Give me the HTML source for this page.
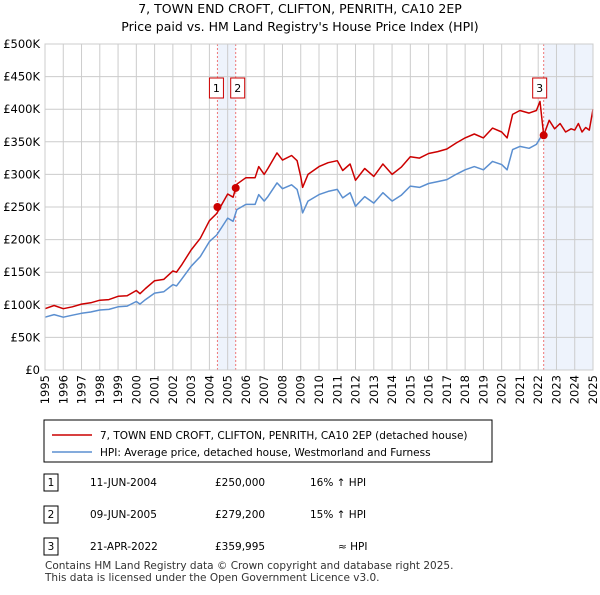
<!DOCTYPE html>
<html><head><meta charset="utf-8"><style>
body{margin:0;background:#fff;font-family:"Liberation Sans","DejaVu Sans",sans-serif;}
svg text{font-family:"DejaVu Sans","Liberation Sans",sans-serif;}
</style></head><body>
<svg id="c" width="600" height="590" xmlns="http://www.w3.org/2000/svg">
<text x="300" y="13" text-anchor="middle" font-size="12.5" fill="#000">7, TOWN END CROFT, CLIFTON, PENRITH, CA10 2EP</text>
<text x="300" y="31" text-anchor="middle" font-size="12.5" fill="#000">Price paid vs. HM Land Registry's House Price Index (HPI)</text>
<g id="plot"></g>
<rect x="44" y="420" width="448" height="42" fill="#fff" stroke="#000" stroke-width="1"/>
<line x1="52" y1="435" x2="92" y2="435" stroke="#cc0000" stroke-width="1.5"/>
<text x="100" y="439" font-size="10.5">7, TOWN END CROFT, CLIFTON, PENRITH, CA10 2EP (detached house)</text>
<line x1="52" y1="452" x2="92" y2="452" stroke="#5b8fd0" stroke-width="1.5"/>
<text x="100" y="456" font-size="10.5">HPI: Average price, detached house, Westmorland and Furness</text>
<g font-size="10.5">
<rect x="44" y="474" width="14" height="17" fill="#fff" stroke="#000"/><text x="51" y="486" text-anchor="middle">1</text>
<text x="90" y="486">11-JUN-2004</text><text x="215" y="486">£250,000</text><text x="310" y="486">16% ↑ HPI</text>
<rect x="44" y="506" width="14" height="17" fill="#fff" stroke="#000"/><text x="51" y="518" text-anchor="middle">2</text>
<text x="90" y="518">09-JUN-2005</text><text x="215" y="518">£279,200</text><text x="310" y="518">15% ↑ HPI</text>
<rect x="44" y="538" width="14" height="17" fill="#fff" stroke="#000"/><text x="51" y="550" text-anchor="middle">3</text>
<text x="90" y="550">21-APR-2022</text><text x="215" y="550">£359,995</text><text x="338" y="550">≈ HPI</text>
</g>
<text x="45" y="569" font-size="10.5" fill="#333">Contains HM Land Registry data © Crown copyright and database right 2025.</text>
<text x="45" y="581" font-size="10.5" fill="#333">This data is licensed under the Open Government Licence v3.0.</text>
</svg>
<script>
const yTicks=[0,50,100,150,200,250,300,350,400,450,500];
const yTickLabels=["£0","£50K","£100K","£150K","£200K","£250K","£300K","£350K","£400K","£450K","£500K"];
const years=[1995,1996,1997,1998,1999,2000,2001,2002,2003,2004,2005,2006,2007,2008,2009,2010,2011,2012,2013,2014,2015,2016,2017,2018,2019,2020,2021,2022,2023,2024,2025];
const hpiDates=[1995,1995.5,1996,1996.5,1997,1997.5,1998,1998.5,1999,1999.5,2000,2000.2,2000.5,2001,2001.5,2002,2002.2,2002.5,2003,2003.5,2004,2004.4,2004.7,2005,2005.3,2005.5,2006,2006.5,2006.7,2007,2007.2,2007.7,2008,2008.5,2008.8,2009,2009.1,2009.4,2010,2010.5,2011,2011.3,2011.7,2012,2012.5,2013,2013.5,2014,2014.5,2015,2015.5,2016,2016.5,2017,2017.5,2018,2018.5,2019,2019.5,2020,2020.3,2020.6,2021,2021.5,2021.9,2022.2];
const hpiValues=[81,85,81,84,87,89,92,93,97,98,105,101,108,118,120,131,129,140,159,174,197,207,220,233,228,246,254,254,269,259,266,287,278,284,277,256,241,259,269,274,277,264,272,251,266,256,272,259,268,282,280,286,289,292,300,307,312,307,320,315,307,338,343,340,346,360];
const propDates=[1995,1995.5,1996,1996.5,1997,1997.5,1998,1998.5,1999,1999.5,2000,2000.2,2000.5,2001,2001.5,2002,2002.2,2002.5,2003,2003.5,2004,2004.4,2004.7,2005,2005.3,2005.5,2006,2006.5,2006.7,2007,2007.2,2007.7,2008,2008.5,2008.8,2009,2009.1,2009.4,2010,2010.5,2011,2011.3,2011.7,2012,2012.5,2013,2013.5,2014,2014.5,2015,2015.5,2016,2016.5,2017,2017.5,2018,2018.5,2019,2019.5,2020,2020.3,2020.6,2021,2021.5,2021.9,2022.1,2022.3,2022.6,2022.9,2023.2,2023.5,2023.8,2024,2024.2,2024.4,2024.6,2024.8,2025];
const propValues=[94,99,94,97,101,103,107,108,113,114,122,117,125,137,139,152,150,162,184,202,229,240,255,270,265,285,295,295,312,300,309,333,322,329,321,297,280,300,312,318,321,306,316,291,309,297,316,300,311,327,325,332,335,339,348,356,362,356,371,365,356,392,398,394,398,412,360,383,370,378,365,370,368,378,365,372,368,400];
const saleDates=[2004.44,2005.44,2022.3];
const saleValues=[250,279.2,360];
const saleLabels=["1","2","3"];

const X0=45,X1=593,Y0=370,Y1=44;
const xs=d=>X0+(d-1995)/(2025-1995)*(X1-X0);
const ys=v=>Y0-v/500*(Y0-Y1);
const NS="http://www.w3.org/2000/svg";
const g=document.getElementById('plot');
function mk(t,a){const e=document.createElementNS(NS,t);for(const k in a)e.setAttribute(k,a[k]);g.appendChild(e);return e;}

let e=mk('rect',{x:xs(saleDates[0]),y:Y1,width:xs(saleDates[1])-xs(saleDates[0]),height:Y0-Y1,fill:'#eef3fc'});


e=mk('rect',{x:xs(saleDates[2]),y:Y1,width:X1-xs(saleDates[2]),height:Y0-Y1,fill:'#eef3fc'});



yTicks.forEach((v,i)=>{
 let l=mk('line',{x1:X0,x2:X1,y1:ys(v),y2:ys(v),stroke:'#cccccc','stroke-width':1});
 
 
 let t=mk('text',{x:X0-5,y:ys(v)+4,'text-anchor':'end','font-size':'11.5',fill:'#000'});
 t.textContent=yTickLabels[i];
 
 
});
years.forEach(y=>{
 let l=mk('line',{x1:xs(y),x2:xs(y),y1:Y1,y2:Y0,stroke:'#cccccc','stroke-width':1});
 
 
 let t=mk('text',{transform:`translate(${xs(y)+4},${Y0+5}) rotate(-90)`,'text-anchor':'end','font-size':'11.5',fill:'#000'});
 t.textContent=String(y);
 
 
});

saleDates.forEach((d,i)=>{
 let l=mk('line',{x1:xs(d),x2:xs(d),y1:Y1,y2:Y0,stroke:'#ee7777','stroke-width':1,'stroke-dasharray':'2,2'});
 
 
});

function path(ds,vs,col,name){
 let d=ds.map((x,i)=>(i?'L':'M')+xs(x).toFixed(1)+','+ys(vs[i]).toFixed(1)).join('');
 let p=mk('path',{d:d,fill:'none',stroke:col,'stroke-width':1.5,'stroke-linejoin':'round'});
 
 
}
path(hpiDates,hpiValues,'#5b8fd0','hpi-line');
path(propDates,propValues,'#cc0000','property-line');

saleDates.forEach((d,i)=>{
 let c=mk('circle',{cx:xs(d),cy:ys(saleValues[i]),r:4,fill:'#cc0000'});
 
 
 let off=(i===0?1:i===1?-2:4);
 let r=mk('rect',{x:xs(d)-7-off,y:78,width:14,height:20,fill:'#fff',stroke:'#cc0000'});
 
 
 let t=mk('text',{x:xs(d)-off,y:92,'text-anchor':'middle','font-size':'11',fill:'#000'});
 t.textContent=saleLabels[i];
 
 
});
let ax=mk('rect',{x:X0,y:Y1,width:X1-X0,height:Y0-Y1,fill:'none',stroke:'#cccccc'});


</script>
</body></html>
